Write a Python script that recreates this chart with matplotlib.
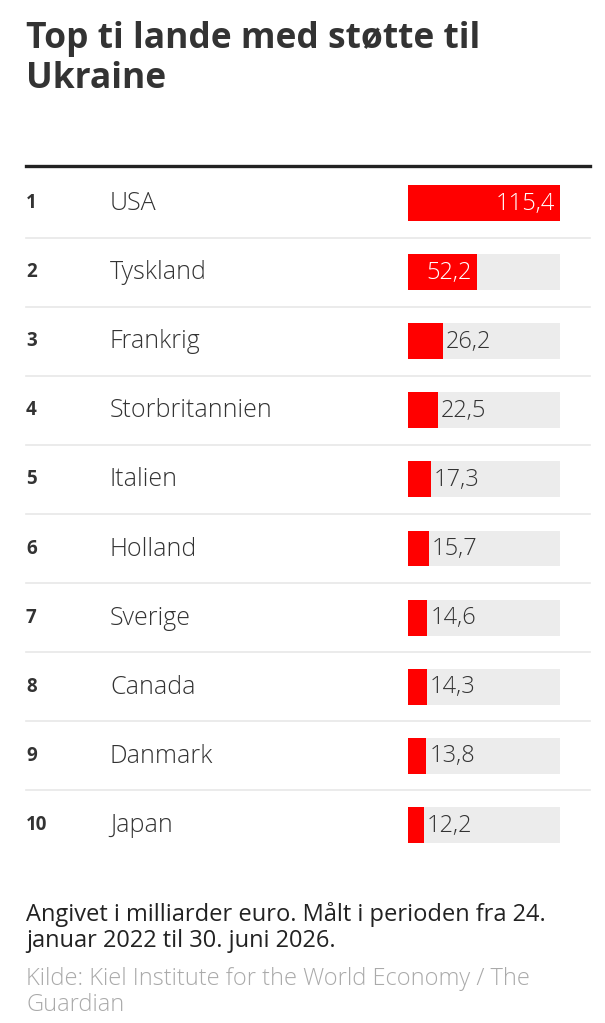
import matplotlib.pyplot as plt
from matplotlib.lines import Line2D
from matplotlib.transforms import blended_transform_factory

# data
ranks = [1, 2, 3, 4, 5, 6, 7, 8, 9, 10]
countries = ['USA', 'Tyskland', 'Frankrig', 'Storbritannien', 'Italien',
             'Holland', 'Sverige', 'Canada', 'Danmark', 'Japan']
values = [115.4, 52.2, 26.2, 22.5, 17.3, 15.7, 14.6, 14.3, 13.8, 12.2]

title = 'Top ti lande med støtte til\nUkraine'
note = 'Angivet i milliarder euro. Målt i perioden fra 24.\njanuar 2022 til 30. juni 2026.'
source = 'Kilde: Kiel Institute for the World Economy / The\nGuardian'

W, H = 605, 1023
plt.rcParams['font.family'] = ['Open Sans', 'DejaVu Sans']
dark = '#333333'

fig = plt.figure(figsize=(W / 100, H / 100), dpi=100)
fig.patch.set_facecolor('white')

def fx(px):
    return px / W

def fy(py):
    return 1 - py / H

# bar axes: track from 408 to 560 px, rows from 168 to 860 px
top, bot = 168.4, 859.5
ax = fig.add_axes([fx(408), fy(bot), fx(560) - fx(408), (bot - top) / H])
ax.set_xlim(0, max(values))
ax.set_ylim(10.5, 0.5)
ax.axis('off')

ax.barh(ranks, [max(values)] * len(ranks), height=0.52, color='#ececec')
ax.barh(ranks, values, height=0.52, color='#ff0000')

blend = blended_transform_factory(fig.transFigure, ax.transData)
dy = -0.035  # small nudge so text sits centred on the bars

for r, c, v in zip(ranks, countries, values):
    ax.text(fx(26), r + dy, str(r), transform=blend, fontsize=13.5, fontweight='bold',
            color=dark, va='center_baseline', ha='left')
    ax.text(fx(110), r + dy, c, transform=blend, fontsize=18, fontweight='light',
            color=dark, va='center_baseline', ha='left')
    label = f'{v:.1f}'.replace('.', ',')
    if v > 40:
        ax.text(v - 0.035 * max(values), r + dy, label, fontsize=17, fontweight='light',
                color='white', va='center_baseline', ha='right')
    else:
        ax.text(v + 0.02 * max(values), r + dy, label, fontsize=17, fontweight='light',
                color=dark, va='center_baseline', ha='left')

# separators between rows
for r in ranks[:-1]:
    ax.plot([fx(26), fx(590)], [r + 0.5, r + 0.5], transform=blend,
            color='#e8e8e8', lw=1.2, clip_on=False)

# thick rule on top of the table
fig.add_artist(Line2D([fx(26), fx(590)], [fy(166), fy(166)], color='#222222', lw=2.4))

fig.text(fx(26), fy(88), title, fontsize=25.5, fontweight='bold', color=dark,
         va='baseline', ha='left', linespacing=1.15)
fig.text(fx(26), fy(947), note, fontsize=17, color='#222222',
         va='baseline', ha='left', linespacing=1.1)
fig.text(fx(26), fy(1011), source, fontsize=17, fontweight='light', color='#aaaaaa',
         va='baseline', ha='left', linespacing=1.1)

fig.savefig('out.png', dpi=100)
